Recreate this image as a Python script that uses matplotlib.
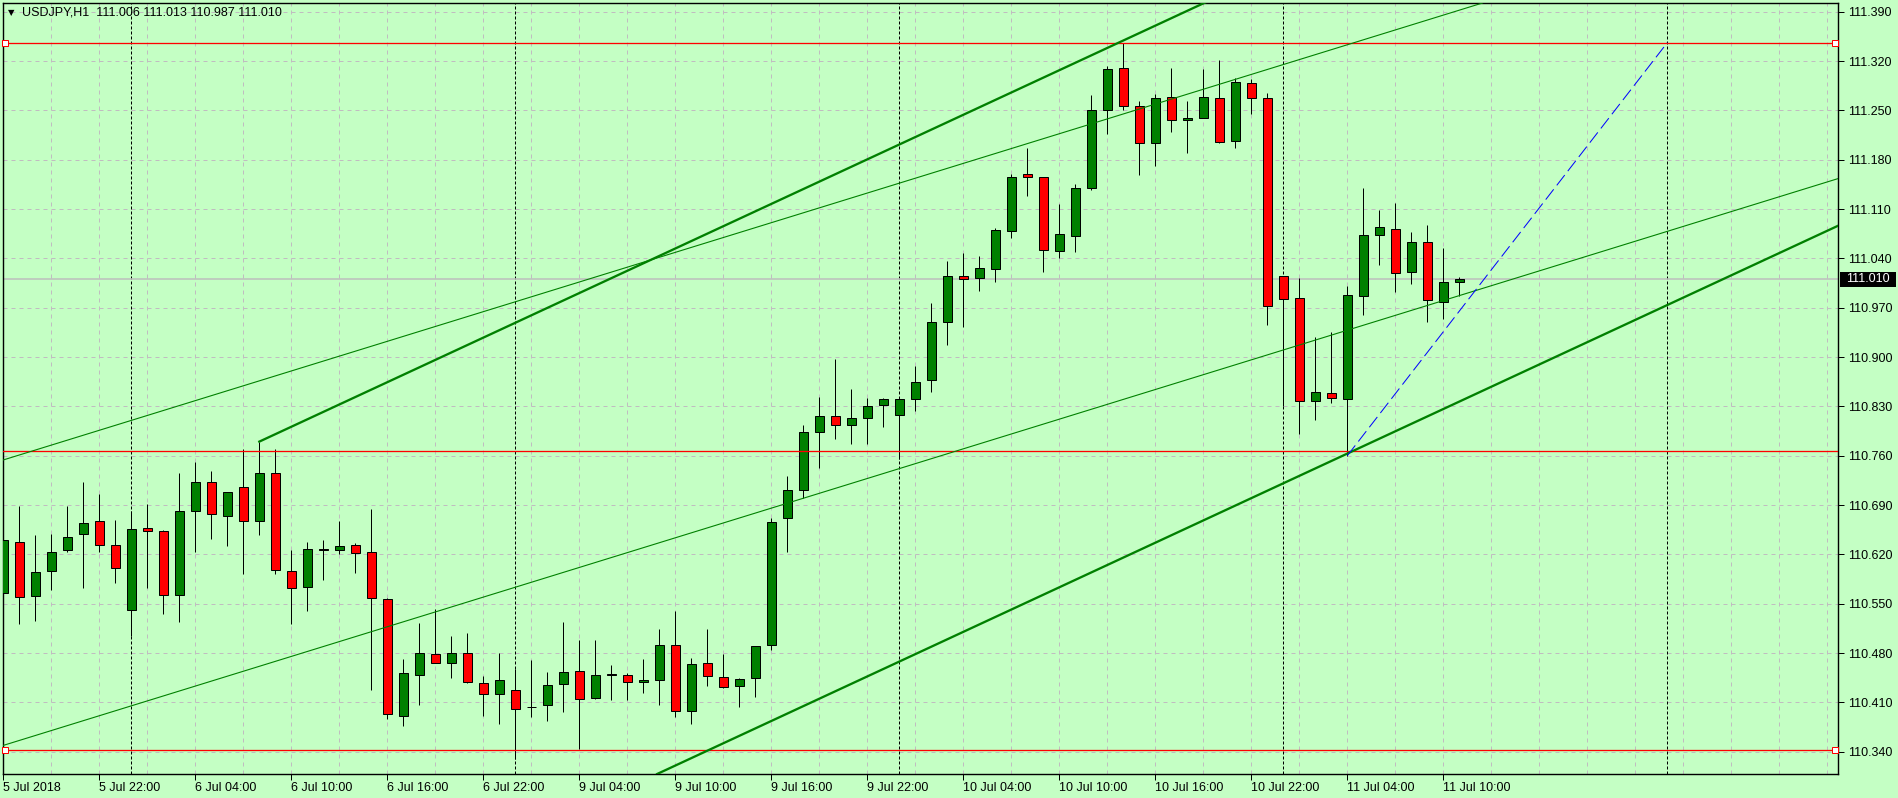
import numpy as np
import matplotlib
matplotlib.use("Agg")
import matplotlib.pyplot as plt
from matplotlib.patches import Rectangle
from matplotlib.transforms import blended_transform_factory

# USDJPY H1, bars from 5 Jul 2018 16:00 (bar 0) to 11 Jul 11:00 (bar 91)
opens = [110.565, 110.637, 110.561, 110.596, 110.626, 110.649, 110.668, 110.633, 110.541, 110.657,
         110.653, 110.562, 110.682, 110.723, 110.675, 110.715, 110.668, 110.735, 110.596, 110.574,
         110.627, 110.626, 110.633, 110.623, 110.557, 110.390, 110.449, 110.478, 110.466, 110.480,
         110.437, 110.422, 110.427, 110.403, 110.406, 110.436, 110.454, 110.416, 110.449, 110.449,
         110.439, 110.442, 110.492, 110.398, 110.466, 110.446, 110.433, 110.444, 110.492, 110.671,
         110.711, 110.793, 110.817, 110.803, 110.814, 110.832, 110.818, 110.841, 110.868, 110.950,
         111.015, 111.012, 111.025, 111.079, 111.159, 111.155, 111.051, 111.072, 111.140, 111.251,
         111.310, 111.256, 111.203, 111.269, 111.237, 111.239, 111.268, 111.207, 111.289, 111.268,
         111.015, 110.984, 110.837, 110.849, 110.841, 110.987, 111.073, 111.081, 111.020, 111.063,
         110.978, 111.006]
highs = [110.653, 110.689, 110.648, 110.649, 110.688, 110.723, 110.706, 110.669, 110.682, 110.692,
         110.655, 110.735, 110.751, 110.739, 110.709, 110.769, 110.780, 110.769, 110.626, 110.638,
         110.640, 110.667, 110.636, 110.684, 110.558, 110.471, 110.523, 110.542, 110.504, 110.509,
         110.447, 110.480, 110.458, 110.470, 110.453, 110.524, 110.499, 110.499, 110.463, 110.451,
         110.472, 110.514, 110.540, 110.473, 110.514, 110.479, 110.444, 110.490, 110.672, 110.731,
         110.804, 110.843, 110.897, 110.854, 110.842, 110.842, 110.840, 110.887, 110.976, 111.036,
         111.048, 111.044, 111.083, 111.160, 111.197, 111.155, 111.117, 111.145, 111.272, 111.313,
         111.346, 111.263, 111.273, 111.310, 111.263, 111.308, 111.322, 111.296, 111.295, 111.275,
         111.015, 111.012, 110.928, 110.935, 111.001, 111.140, 111.108, 111.118, 111.077, 111.087,
         111.054, 111.013]
lows = [110.539, 110.521, 110.525, 110.569, 110.623, 110.572, 110.623, 110.580, 110.504, 110.572,
        110.536, 110.524, 110.623, 110.642, 110.632, 110.592, 110.648, 110.592, 110.521, 110.539,
        110.584, 110.620, 110.593, 110.427, 110.387, 110.376, 110.407, 110.466, 110.445, 110.437,
        110.390, 110.380, 110.330, 110.389, 110.383, 110.397, 110.344, 110.415, 110.414, 110.414,
        110.424, 110.407, 110.389, 110.380, 110.433, 110.430, 110.403, 110.418, 110.485, 110.623,
        110.700, 110.742, 110.783, 110.776, 110.776, 110.801, 110.756, 110.824, 110.851, 110.917,
        110.943, 110.994, 111.006, 111.069, 111.129, 111.020, 111.040, 111.049, 111.137, 111.216,
        111.251, 111.158, 111.171, 111.219, 111.190, 111.239, 111.203, 111.196, 111.245, 110.946,
        110.831, 110.791, 110.811, 110.835, 110.760, 110.959, 111.031, 110.992, 111.003, 110.949,
        110.954, 110.987]
closes = [110.641, 110.559, 110.595, 110.624, 110.644, 110.665, 110.633, 110.600, 110.656, 110.653,
          110.562, 110.682, 110.722, 110.677, 110.709, 110.667, 110.735, 110.598, 110.572, 110.627,
          110.626, 110.632, 110.622, 110.558, 110.393, 110.452, 110.480, 110.466, 110.480, 110.439,
          110.422, 110.442, 110.401, 110.403, 110.434, 110.453, 110.415, 110.449, 110.449, 110.439,
          110.442, 110.492, 110.398, 110.464, 110.447, 110.432, 110.443, 110.490, 110.666, 110.711,
          110.793, 110.817, 110.803, 110.813, 110.831, 110.840, 110.840, 110.865, 110.950, 111.015,
          111.011, 111.027, 111.080, 111.156, 111.155, 111.052, 111.074, 111.140, 111.251, 111.309,
          111.256, 111.203, 111.268, 111.237, 111.239, 111.269, 111.205, 111.290, 111.268, 110.972,
          110.982, 110.837, 110.851, 110.842, 110.988, 111.073, 111.084, 111.019, 111.063, 110.981,
          111.006, 111.010]

x_tick_pos = list(range(0, 91, 6))
x_tick_labels = ['5 Jul 2018', '5 Jul 22:00', '6 Jul 04:00', '6 Jul 10:00', '6 Jul 16:00',
                 '6 Jul 22:00', '9 Jul 04:00', '9 Jul 10:00', '9 Jul 16:00', '9 Jul 22:00',
                 '10 Jul 04:00', '10 Jul 10:00', '10 Jul 16:00', '10 Jul 22:00', '11 Jul 04:00',
                 '11 Jul 10:00']
y_ticks = [110.340, 110.410, 110.480, 110.550, 110.620, 110.690, 110.760, 110.830,
           110.900, 110.970, 111.040, 111.110, 111.180, 111.250, 111.320, 111.390]
day_breaks = [8, 32, 56, 80, 104]

# horizontal levels and trend lines (bar index, price)
red_levels = [111.346, 110.767, 110.343]
thick_upper_start = (16, 110.780)
thick_lower = [(84, 110.763), (114.08, 111.080)]
thin_upper = [(0, 110.754), (81, 111.322)]
thin_lower = [(0, 110.349), (114.08, 111.149)]
blue_dash = [(84, 110.760), (104, 111.346)]

BG = '#c4ffc4'
GREEN = '#008000'
GRID = '#c0bcc0'
PX = 0.72  # one pixel in points

plt.rcParams['font.family'] = ['Liberation Sans', 'DejaVu Sans']

fig = plt.figure(figsize=(18.98, 7.98), dpi=100, facecolor=BG)
ax = fig.add_axes([2.7 / 1898, 24 / 798, 1835.3 / 1898, 771 / 798])
ax.set_facecolor(BG)
ax.set_xlim(-0.04, 114.67)
ax.set_ylim(110.3084, 111.4023)

# grid
for y in y_ticks:
    ax.axhline(y, color=GRID, lw=PX, dashes=(4, 4), zorder=1)
for x in range(3, 115, 3):
    ax.axvline(x, color=GRID, lw=PX, dashes=(4, 4), zorder=1)
for x in day_breaks:
    ax.axvline(x, color='black', lw=PX, dashes=(3, 2), zorder=2)

# current price line
ax.axhline(closes[-1], color='#bdbdbd', lw=PX * 1.5, zorder=2)

# candles
o = np.array(opens)
h = np.array(highs)
l = np.array(lows)
c = np.array(closes)
idx = np.arange(len(o))
cols = np.where(c >= o, GREEN, '#ff0000')
ax.vlines(idx, l, h, color='black', lw=PX, zorder=3)
body = np.maximum(np.abs(c - o), 0.0008)
ax.bar(idx, body, bottom=np.minimum(o, c), width=0.5625, color=cols,
       edgecolor='black', linewidth=PX, zorder=4)

# horizontal red levels with handles on the outer ones
trans = blended_transform_factory(ax.transAxes, ax.transData)
for i, lev in enumerate(red_levels):
    ax.axhline(lev, color='#ff0000', lw=PX * 1.3, zorder=5)
    if i != 1:
        ax.plot([0.00125, 0.9986], [lev, lev], transform=trans, ls='none', marker='s',
                ms=4, mfc='white', mec='#ff0000', mew=PX, zorder=6, clip_on=False)

# trend lines
(x1, y1), (x2, y2) = thick_lower
slope = (y2 - y1) / (x2 - x1)
ax.axline(thick_lower[0], thick_lower[1], color=GREEN, lw=PX * 2.3, zorder=5)
xs = np.array([thick_upper_start[0], 130])
ax.plot(xs, thick_upper_start[1] + slope * (xs - thick_upper_start[0]),
        color=GREEN, lw=PX * 2.3, zorder=5)
ax.axline(thin_upper[0], thin_upper[1], color=GREEN, lw=PX * 1.1, zorder=5)
ax.axline(thin_lower[0], thin_lower[1], color=GREEN, lw=PX * 1.1, zorder=5)
ax.plot([p[0] for p in blue_dash], [p[1] for p in blue_dash], color='#0000ff',
        lw=PX, dashes=(13, 5), zorder=5)

# axes styling
for sp in ax.spines.values():
    sp.set_color('black')
    sp.set_linewidth(PX * 1.4)
ax.yaxis.tick_right()
ax.set_yticks(y_ticks)
ax.set_yticklabels([f'{v:.3f}' for v in y_ticks])
ax.set_xticks(x_tick_pos)
ax.set_xticklabels(x_tick_labels)
for lbl in ax.get_xticklabels():
    lbl.set_horizontalalignment('left')
ax.tick_params(axis='y', direction='out', length=4, width=PX, pad=3, labelsize=9, colors='black')
ax.tick_params(axis='x', direction='out', length=4, width=PX, pad=2, labelsize=9, colors='black')

# current price tag
ax.add_patch(Rectangle((1.001, closes[-1] - 0.0107), 0.0305, 0.0213, transform=trans,
                       facecolor='black', edgecolor='none', clip_on=False, zorder=7))
ax.text(1.0044, closes[-1], f'{closes[-1]:.3f}', transform=trans, ha='left', va='center',
        color='white', fontsize=9, zorder=8, clip_on=False)

# header
ax.text(0.0044, 0.9873, '\u25bc', transform=ax.transAxes, ha='center', va='center',
        fontsize=6, color='black', family=['DejaVu Sans'])
ax.text(0.0104, 0.9873, f'USDJPY,H1  {opens[-1]:.3f} {highs[-1]:.3f} {lows[-1]:.3f} {closes[-1]:.3f}',
        transform=ax.transAxes, ha='left', va='center', fontsize=9, color='black')

fig.savefig('out.png', dpi=100, facecolor=BG)
